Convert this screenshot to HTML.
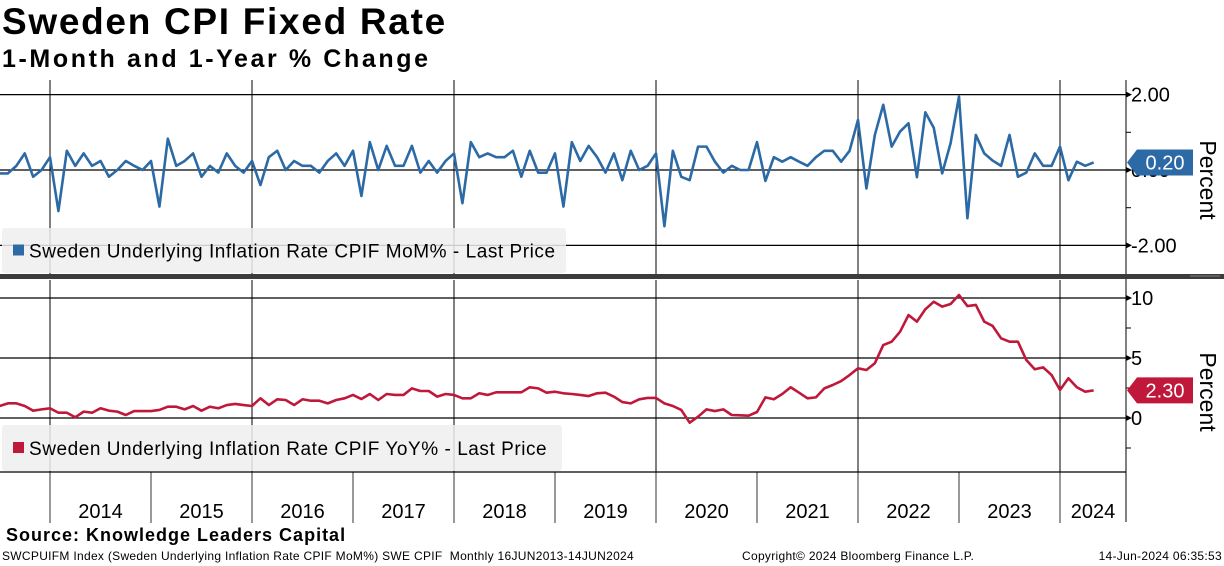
<!DOCTYPE html>
<html><head><meta charset="utf-8"><style>
body{margin:0;background:#fff;width:1224px;height:566px;overflow:hidden;font-family:"Liberation Sans",sans-serif}
.t{position:absolute;white-space:nowrap;color:#000}
</style></head><body>
<div class="t" style="left:2px;top:1px;font-size:37px;font-weight:bold;letter-spacing:1.7px">Sweden CPI Fixed Rate</div>
<div class="t" style="left:2px;top:45px;font-size:25px;font-weight:bold;letter-spacing:2.6px">1-Month and 1-Year % Change</div>
<svg id="c" width="1224" height="566" style="position:absolute;left:0;top:0" font-family="Liberation Sans, sans-serif"></svg>
<div class="t" style="left:6px;top:525px;font-size:18px;font-weight:bold;letter-spacing:1px">Source: Knowledge Leaders Capital</div>
<div class="t" style="left:2px;top:549px;font-size:12px;letter-spacing:0.3px">SWCPUIFM Index (Sweden Underlying Inflation Rate CPIF MoM%) SWE CPIF&nbsp; Monthly 16JUN2013-14JUN2024</div>
<div class="t" style="left:742px;top:549px;font-size:12px;letter-spacing:0.3px">Copyright© 2024 Bloomberg Finance L.P.</div>
<div class="t" style="right:2px;top:549px;font-size:12px;letter-spacing:0.3px">14-Jun-2024 06:35:53</div>
<script>
const years=["2014","2015","2016","2017","2018","2019","2020","2021","2022","2023","2024"];
const momTicks=[2,0,-2];
const momTickLabels=["2.00","0.00","-2.00"];
const yoyTicks=[10,5,0];
const yoyTickLabels=["10","5","0"];
const mom=[-0.09,-0.09,0.11,0.44,-0.18,0,0.34,-1.09,0.51,0.11,0.44,0.11,0.24,-0.18,0,0.24,0.11,0,0.24,-0.97,0.83,0.11,0.24,0.44,-0.18,0.11,-0.07,0.44,0.11,-0.07,
0.24,-0.4,0.34,0.51,0,0.24,0.11,0.11,-0.07,0.24,0.44,0.11,0.51,-0.69,0.74,0,0.64,0.11,0.11,0.64,-0.07,0.24,-0.07,0.24,
0.44,-0.88,0.74,0.34,0.44,0.34,0.34,0.51,-0.18,0.51,-0.07,-0.07,0.44,-0.97,0.74,0.24,0.64,0.34,-0.07,0.44,-0.27,0.51,0,0.11,
0.44,-1.49,0.51,-0.18,-0.27,0.62,0.62,0.22,-0.07,0.11,0,0,0.74,-0.29,0.34,0.22,0.34,0.22,0.11,0.34,0.51,0.51,0.22,0.51,
1.33,-0.49,0.93,1.73,0.62,1.02,1.24,-0.19,1.53,1.12,-0.09,0.71,1.95,-1.28,0.93,0.44,0.25,0.11,0.93,-0.18,-0.07,0.44,0.11,0.11,
0.62,-0.27,0.22,0.11,0.20];
const yoy=[1.0,1.22,1.22,1.0,0.61,0.72,0.81,0.44,0.44,0.06,0.53,0.44,0.81,0.61,0.53,0.25,0.58,0.58,0.58,0.67,0.94,0.94,0.72,1.0,0.61,0.94,0.81,1.08,1.17,1.08,1.0,
1.64,1.08,1.56,1.5,1.08,1.56,1.44,1.44,1.22,1.5,1.64,1.92,1.58,2.0,1.5,2.0,1.92,1.92,2.47,2.25,2.25,1.78,2.0,1.92,
1.64,1.64,2.06,1.92,2.14,2.14,2.14,2.14,2.56,2.47,2.11,2.19,2.06,2.0,1.92,1.83,2.06,2.11,1.78,
1.33,1.22,1.56,1.67,1.67,1.22,1.0,0.67,-0.39,0.11,0.72,0.58,0.72,0.25,0.22,0.19,0.5,1.72,1.56,2.0,2.56,2.11,1.64,1.72,2.47,2.75,3.08,3.58,
4.14,4.0,4.56,6.08,6.36,7.19,8.58,8.03,9.06,9.69,9.28,9.5,10.25,9.33,9.42,8.03,7.67,6.64,6.36,6.36,4.83,4.06,4.22,3.58,2.33,3.31,2.56,2.19,2.30];
const svg=document.getElementById('c');const NS='http://www.w3.org/2000/svg';
function mk(t,a,p){const e=document.createElementNS(NS,t);for(const k in a)e.setAttribute(k,a[k]);(p||svg).appendChild(e);return e;}
const AX=1126, MW=101/12;
const x=i=>50+(i-6)*MW;
const yTop=v=>170-v*37.7;
const yBot=v=>418-v*12;
for(let k=0;k<years.length;k+=2){const gx=50+k*101;
 const l1=mk('line',{x1:gx,y1:80,x2:gx,y2:274,stroke:'#000','stroke-width':1});
 
 const l2=mk('line',{x1:gx,y1:280,x2:gx,y2:472,stroke:'#000','stroke-width':1});
 }
momTicks.forEach((v,i)=>{const g=mk('line',{x1:0,y1:yTop(v),x2:AX,y2:yTop(v),stroke:'#000','stroke-width':1.3});
 
 const t=mk('text',{x:1131,y:yTop(v)+7,'font-size':20,fill:'#000'});t.textContent=momTickLabels[i];
 
 mk('path',{d:`M${AX},${yTop(v)-3}L${AX+6},${yTop(v)}L${AX},${yTop(v)+3}Z`,fill:'#000'});});
[1,-1].forEach(v=>mk('line',{x1:AX,y1:yTop(v),x2:AX+5,y2:yTop(v),stroke:'#000'}));
yoyTicks.forEach((v,i)=>{const g=mk('line',{x1:0,y1:yBot(v),x2:AX,y2:yBot(v),stroke:'#000','stroke-width':1.3});
 
 const t=mk('text',{x:1131,y:yBot(v)+7,'font-size':20,fill:'#000'});t.textContent=yoyTickLabels[i];
 
 mk('path',{d:`M${AX},${yBot(v)-3}L${AX+6},${yBot(v)}L${AX},${yBot(v)+3}Z`,fill:'#000'});});
[7.5,2.5,-2.5].forEach(v=>mk('line',{x1:AX,y1:yBot(v),x2:AX+5,y2:yBot(v),stroke:'#000'}));
const ax=mk('line',{x1:AX,y1:80,x2:AX,y2:522,stroke:'#000','stroke-width':1});

const sep=mk('rect',{x:0,y:274,width:1224,height:5,fill:'#3c3c3c'});

mk('line',{x1:1190,y1:276,x2:1220,y2:276,stroke:'#999','stroke-width':0.8});
const xb=mk('line',{x1:0,y1:472,x2:AX,y2:472,stroke:'#000','stroke-width':1.3});

years.forEach((yr,k)=>{const gx=50+k*101;
 const tk=mk('line',{x1:gx,y1:472,x2:gx,y2:523,stroke:'#000','stroke-width':0.8});
 
 const cx=k<years.length-1?gx+50.5:(gx+AX)/2;
 const t=mk('text',{x:cx,y:518,'font-size':20,'text-anchor':'middle',fill:'#000'});t.textContent=yr;
 });
const p1=mk('polyline',{points:mom.map((v,i)=>x(i)+','+yTop(v)).join(' '),fill:'none',stroke:'#2c6aa6','stroke-width':2.6,'stroke-linejoin':'round'});

const p2=mk('polyline',{points:yoy.map((v,i)=>x(i)+','+yBot(v)).join(' '),fill:'none',stroke:'#c0183a','stroke-width':2.6,'stroke-linejoin':'round'});

function legend(y,h,w,col,txt,name){const g=mk('g',{});
 
 mk('rect',{x:2,y:y,width:w,height:h,rx:3,fill:'#eeeeee','fill-opacity':0.85},g);
 mk('rect',{x:13,y:y+h/2-6,width:11,height:11,fill:col},g);
 const t=mk('text',{x:29,y:y+h/2+7,'font-size':19,fill:'#000','letter-spacing':0.55},g);t.textContent=txt;}
legend(228,45,564,'#2c6aa6','Sweden Underlying Inflation Rate CPIF MoM% - Last Price','mom-legend');
legend(425,46,560,'#c0183a','Sweden Underlying Inflation Rate CPIF YoY% - Last Price','yoy-legend');
function tag(v,yf,col,name){const yy=yf(v);const g=mk('g',{});
 
 mk('path',{d:`M1127,${yy}L1137,${yy-13}L1193,${yy-13}L1193,${yy+13}L1137,${yy+13}Z`,fill:col},g);
 const t=mk('text',{x:1165,y:yy+7,'font-size':20,'text-anchor':'middle',fill:'#fff'},g);t.textContent=v.toFixed(2);}
tag(mom[mom.length-1],yTop,'#2c6aa6','mom-last-value-tag');
tag(yoy[yoy.length-1],yBot,'#c0183a','yoy-last-value-tag');
[[180,'top-y-axis-title'],[392,'bottom-y-axis-title']].forEach(([cy,n])=>{
 const t=mk('text',{x:1200,y:cy,'font-size':23,'text-anchor':'middle',fill:'#000',transform:`rotate(90 1200 ${cy})`});
 t.textContent='Percent';});
</script>
</body></html>
